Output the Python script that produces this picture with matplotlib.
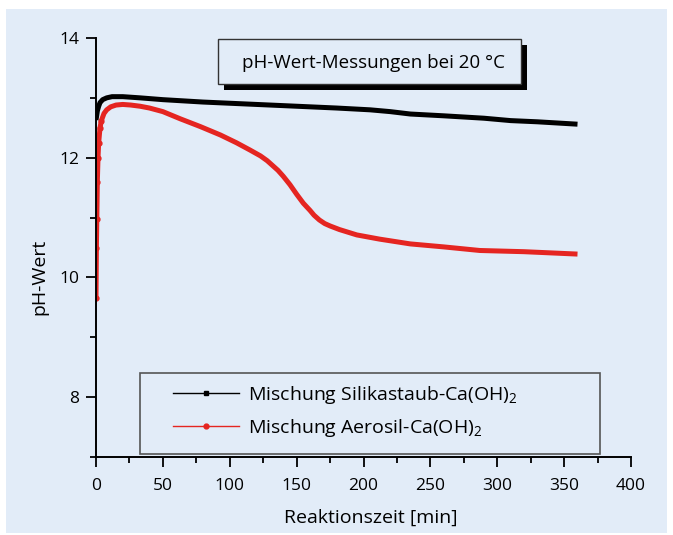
import matplotlib.pyplot as plt
from matplotlib.patches import Rectangle
from matplotlib.lines import Line2D
from matplotlib.ticker import MultipleLocator

t_silika = [0, 0.5, 1, 2, 3, 5, 8, 12, 20, 33, 50, 80, 110, 150, 180, 205,
            220, 235, 260, 290, 310, 330, 360]
ph_silika = [12.63, 12.7, 12.78, 12.86, 12.92, 12.97, 13.0, 13.02, 13.02, 13.0,
             12.97, 12.93, 12.9, 12.86, 12.83, 12.8, 12.77, 12.73, 12.7, 12.66,
             12.62, 12.6, 12.56]

t_aerosil = [0, 0.3, 0.6, 1, 1.5, 2, 3, 4, 6, 8, 11, 15, 20, 26, 33, 40, 50, 63,
             78, 93, 105, 115, 123, 128, 132, 136, 140, 145, 150, 155, 160, 163,
             167, 171, 175, 182, 195, 212, 235, 260, 287, 320, 340, 360]
ph_aerosil = [9.65, 10.5, 10.97, 11.6, 12.0, 12.25, 12.5, 12.62, 12.74, 12.8,
              12.85, 12.88, 12.89, 12.88, 12.86, 12.83, 12.77, 12.65, 12.52,
              12.38, 12.25, 12.13, 12.03, 11.95, 11.87, 11.79, 11.69, 11.55,
              11.39, 11.24, 11.12, 11.04, 10.96, 10.9, 10.86, 10.8, 10.71,
              10.64, 10.56, 10.51, 10.45, 10.43, 10.41, 10.39]

labels = ['Mischung Silikastaub-Ca(OH)$_2$', 'Mischung Aerosil-Ca(OH)$_2$']
title_text = 'pH-Wert-Messungen bei 20 °C'

bg = '#E2ECF8'
red = '#E52521'
plt.rcParams['font.family'] = ['Open Sans', 'DejaVu Sans']
plt.rcParams['mathtext.fontset'] = 'custom'
plt.rcParams['mathtext.rm'] = 'Open Sans'

fig = plt.figure(figsize=(6.73, 5.35), dpi=100, facecolor='white')
W, H = 673, 535

# hellblaues Hintergrundfeld
fig.patches.append(Rectangle((6 / W, 1 - 533 / H), 661 / W, 524 / H,
                             transform=fig.transFigure, facecolor=bg,
                             edgecolor='none', zorder=-5))

ax = fig.add_axes([96 / W, 1 - 457 / H, 535 / W, 419 / H])
ax.set_facecolor('none')

ax.plot(t_silika, ph_silika, color='black', lw=3.6, solid_capstyle='butt', zorder=3)
ax.plot(t_aerosil, ph_aerosil, color=red, lw=3.6, solid_capstyle='butt', zorder=2)
ax.plot(t_aerosil[:8], ph_aerosil[:8], 'o', color=red, ms=3.5, zorder=2)

ax.set_xlim(0, 400)
ax.set_ylim(7, 14)
ax.xaxis.set_major_locator(MultipleLocator(50))
ax.xaxis.set_minor_locator(MultipleLocator(25))
ax.yaxis.set_minor_locator(MultipleLocator(1))
ax.set_yticks([8, 10, 12, 14])
ax.tick_params(which='major', length=7, width=1.3, labelsize=12.5)
ax.tick_params(axis='x', which='major', pad=8)
ax.tick_params(axis='y', which='major', pad=5)
ax.tick_params(which='minor', length=4, width=1.3)
for s in ['top', 'right']:
    ax.spines[s].set_visible(False)
for s in ['left', 'bottom']:
    ax.spines[s].set_linewidth(1.4)

ax.set_xlabel('Reaktionszeit [min]', fontsize=14)
ax.set_ylabel('pH-Wert', fontsize=14)
ax.xaxis.set_label_coords((371 - 96) / 535, -(509 - 457) / 419)
ax.yaxis.set_label_coords(-(96 - 48) / 535, (457 - 277) / 419)

# Titelkasten mit Schatten
fig.patches.append(Rectangle((224 / W, 1 - 90 / H), 303 / W, 45 / H,
                             transform=fig.transFigure, facecolor='black',
                             edgecolor='none', zorder=5))
fig.patches.append(Rectangle((218 / W, 1 - 84 / H), 303 / W, 45 / H,
                             transform=fig.transFigure, facecolor=bg,
                             edgecolor='#333333', lw=1.0, zorder=6))
fig.text(373 / W, 1 - 63 / H, title_text, ha='center', va='center',
         fontsize=13.5, zorder=7)

# Legendenkasten
fig.patches.append(Rectangle((140 / W, 1 - 454 / H), 460 / W, 81 / H,
                             transform=fig.transFigure, facecolor='none',
                             edgecolor='#555555', lw=1.2, zorder=4))
handles = [Line2D([], [], color='black', lw=1, marker='s', ms=3.5),
           Line2D([], [], color=red, lw=1, marker='o', ms=3.5)]
ax.legend(handles, labels, loc='upper left',
          bbox_to_anchor=(157 / W, 1 - 368 / H), bbox_transform=fig.transFigure,
          frameon=False, fontsize=14, handlelength=3.4, handletextpad=0.5,
          labelspacing=0.6, borderpad=0.3)

fig.savefig('out.png', dpi=100, facecolor='white')
